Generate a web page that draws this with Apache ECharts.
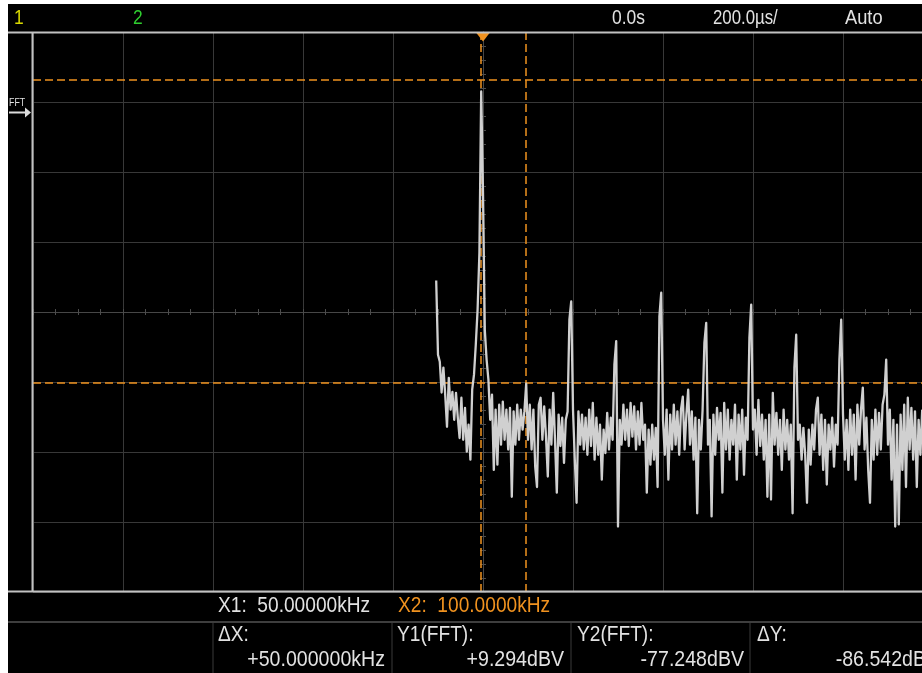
<!DOCTYPE html>
<html>
<head>
<meta charset="utf-8">
<script src="https://cdn.jsdelivr.net/npm/echarts@6/dist/echarts.min.js"></script>
<style>
  html, body { margin: 0; padding: 0; background: #fff; }
  #scope { width: 922px; height: 673px; }
</style>
</head>
<body>
<div id="scope"></div>
<script>
// FFT trace, one level per 2 kHz bin starting at 0 Hz (dBV)
const binKHz = 2;
const levels = [
  -48.0, -69.2, -71.2, -80.0, -72.9, -80.6, -89.8, -75.8, -84.9, -79.8,
  -87.8, -80.1, -87.2, -93.0, -81.5, -93.5, -84.4, -96.9, -89.2, -99.2,
  -79.2, -74.9, -66.3, -56.3, -40.1, 6.0, -22.9, -62.1, -70.6, -76.3,
  -87.8, -80.6, -102.1, -84.9, -100.6, -83.5, -94.9, -82.6, -93.5, -84.9,
  -96.3, -84.4, -109.8, -85.4, -94.9, -83.5, -93.5, -84.9, -90.6, -85.4,
  -77.5, -93.5, -83.5, -96.3, -84.9, -101.2, -107.0, -83.5, -81.5, -93.5,
  -84.0, -92.6, -104.0, -84.9, -94.9, -80.1, -93.5, -108.6, -86.3, -95.3,
  -87.2, -100.1, -87.8, -85.4, -59.2, -54.0, -84.9, -99.2, -111.5, -85.4,
  -94.9, -86.3, -96.3, -87.2, -97.8, -84.9, -95.3, -83.0, -99.2, -87.2,
  -97.8, -89.2, -104.9, -90.6, -97.3, -85.8, -96.3, -87.2, -93.5, -72.0,
  -65.3, -118.3, -87.8, -94.9, -83.5, -93.5, -84.9, -95.3, -83.0, -92.6,
  -84.0, -96.3, -85.4, -94.9, -83.0, -93.5, -89.2, -108.6, -90.6, -100.6,
  -89.2, -99.2, -90.1, -107.0, -58.3, -51.5, -87.8, -97.8, -84.9, -104.9,
  -86.3, -96.3, -83.5, -94.9, -85.4, -97.8, -84.9, -81.2, -96.3, -86.3,
  -79.2, -94.9, -85.4, -99.2, -87.2, -114.5, -87.8, -96.3, -84.9, -65.8,
  -60.1, -94.9, -87.8, -115.4, -86.3, -97.8, -84.4, -93.5, -85.8, -108.6,
  -83.0, -96.3, -84.9, -99.2, -87.8, -94.9, -83.5, -104.9, -86.3, -96.3,
  -84.9, -103.5, -87.2, -93.5, -64.4, -54.9, -90.6, -84.9, -97.8, -82.1,
  -95.3, -86.3, -99.2, -87.8, -109.8, -86.3, -110.6, -80.1, -94.9, -85.8,
  -97.8, -87.8, -102.1, -84.9, -96.3, -87.8, -99.2, -89.2, -114.5, -72.9,
  -63.5, -93.5, -89.2, -99.2, -90.1, -97.8, -111.5, -90.6, -100.6, -89.2,
  -96.3, -84.9, -81.5, -97.8, -86.3, -102.1, -87.8, -106.3, -89.2, -96.3,
  -87.2, -101.2, -89.2, -94.9, -70.6, -59.2, -86.3, -99.2, -87.8, -102.1,
  -84.9, -97.8, -86.3, -104.9, -83.5, -94.9, -84.9, -78.6, -96.3, -87.2,
  -102.1, -111.5, -87.8, -99.2, -84.9, -97.8, -85.8, -96.3, -83.5, -80.6,
  -70.6, -94.9, -84.9, -104.9, -87.8, -118.3, -89.2, -117.7, -86.3, -102.1,
  -83.5, -107.0, -81.5, -96.3, -84.4, -99.2, -85.4, -107.0, -87.8, -97.8,
  -84.9
];

// screen scale: 100 kHz/div, 20 dB/div
const xMin = -448, xMax = 552, xDiv = 100;
const yMin = -137, yMax = 23, yDiv = 20;
const centreKHz = 52;
const cursorX = [50, 100];          // X1, X2 (kHz)
const cursorY = [9.294, -77.248];   // Y1, Y2 (dBV)
const fftRefDBV = 0;

const topTexts = ['1', '2', '0.0s', '200.0\u00b5s/', 'Auto'];
const readRow1 = ['X1:  50.00000kHz', 'X2:  100.0000kHz'];
const readHeads = ['\u0394X:', 'Y1(FFT):', 'Y2(FFT):', '\u0394Y:'];
const readVals = ['+50.000000kHz', '+9.294dBV', '-77.248dBV', '-86.542dB'];

const orange = '#f0921f';
const gridCol = '#383838';
const font = '"Liberation Sans", Arial, sans-serif';

const trace = levels.map((v, i) => [i * binKHz, v]);

const chart = echarts.init(document.getElementById('scope'));

// centre-line axes carry the small graticule ticks
const centreX = (pos, split) => ({
  type: 'value', min: xMin, max: xMax, interval: xDiv, position: pos,
  axisLine: { show: true, onZero: true, onZeroAxisIndex: 2, lineStyle: { color: '#474747', width: 1 } },
  axisTick: { show: true, length: 3, lineStyle: { color: '#4c4c4c' } },
  minorTick: { show: true, splitNumber: 4, length: 3, lineStyle: { color: '#4c4c4c' } },
  axisLabel: { show: false },
  splitLine: { show: split, lineStyle: { color: gridCol, width: 1 } }
});
const centreY = (pos, split) => ({
  type: 'value', min: yMin, max: yMax, interval: yDiv, position: pos,
  axisLine: { show: true, onZero: true, onZeroAxisIndex: 2, lineStyle: { color: '#474747', width: 1 } },
  axisTick: { show: true, length: 3, lineStyle: { color: '#4c4c4c' } },
  minorTick: { show: true, splitNumber: 5, length: 3, lineStyle: { color: '#4c4c4c' } },
  axisLabel: { show: false },
  splitLine: { show: split, lineStyle: { color: gridCol, width: 1 } }
});

option = {
  backgroundColor: '#000',
  animation: false,
  grid: { left: 33, top: 32, width: 900, height: 560, show: false, outerBoundsMode: 'none', containLabel: false },
  xAxis: [
    centreX('bottom', true),
    centreX('top', false),
    { type: 'value', min: -5, max: 5, show: false, axisLine: { onZero: false } }
  ],
  yAxis: [
    centreY('left', true),
    centreY('right', false),
    { type: 'value', min: -4, max: 4, show: false, axisLine: { onZero: false } }
  ],
  series: [
    {
      type: 'line',
      xAxisIndex: 0,
      yAxisIndex: 0,
      data: trace,
      symbol: 'none',
      z: 5,
      lineStyle: { color: '#d0d0d0', width: 2.3, join: 'round' },
      markLine: {
        silent: true,
        symbol: ['none', 'none'],
        label: { show: false },
        lineStyle: { color: orange, width: 1.5, type: [8, 4] },
        data: [
          { xAxis: cursorX[0] }, { xAxis: cursorX[1] },
          { yAxis: cursorY[0] }, { yAxis: cursorY[1] }
        ]
      },
      markPoint: {
        silent: true,
        symbol: 'path://M0,0L14,0L7,9Z',
        symbolSize: [14, 9],
        symbolOffset: [0, 5],
        itemStyle: { color: orange },
        label: { show: false },
        data: [{ coord: [centreKHz, yMax] }]
      }
    }
  ]
};

chart.setOption(option);

// frame, readouts and markers around the graticule
const txt = (text, x, y, o) => ({
  type: 'text', x: x, y: y, scaleX: o.sx || 0.87, z: 100, silent: true,
  style: {
    text: text, fill: o.color || '#e2e2e2', font: (o.size || 22) + 'px ' + font,
    textAlign: o.align || 'left', textVerticalAlign: 'middle', verticalAlign: 'middle'
  }
});
const ln = (x1, y1, x2, y2, color, w) => ({
  type: 'line', z: 90, silent: true,
  shape: { x1: x1, y1: y1, x2: x2, y2: y2 },
  style: { stroke: color, lineWidth: w }
});

const refY = chart.convertToPixel({ yAxisIndex: 0 }, fftRefDBV);

const g = [
  // graticule frame
  ln(8, 32.5, 922, 32.5, '#c2c2c2', 2),
  ln(8, 591.5, 922, 591.5, '#c2c2c2', 2),
  ln(32.5, 32, 32.5, 592, '#c2c2c2', 2),
  // readout separators
  ln(8, 622, 922, 622, '#3e3e3e', 2),
  ln(213, 623, 213, 673, '#3a3a3a', 1),
  ln(392, 623, 392, 673, '#3a3a3a', 1),
  ln(571, 623, 571, 673, '#3a3a3a', 1),
  ln(750, 623, 750, 673, '#3a3a3a', 1),
  // top bar
  txt(topTexts[0], 14, 18, { color: '#d8d800', size: 21, sx: 0.83 }),
  txt(topTexts[1], 133, 18, { color: '#2fce2f', size: 21, sx: 0.83 }),
  txt(topTexts[2], 612, 18, { size: 21, sx: 0.83 }),
  txt(topTexts[3], 713, 18, { size: 21, sx: 0.8 }),
  txt(topTexts[4], 845, 18, { size: 21, sx: 0.87 }),
  // cursor readouts
  txt(readRow1[0], 218, 606, {}),
  txt(readRow1[1], 398, 606, { color: orange }),
  txt(readHeads[0], 218, 635, {}),
  txt(readHeads[1], 397, 635, {}),
  txt(readHeads[2], 577, 635, {}),
  txt(readHeads[3], 757, 635, {}),
  txt(readVals[0], 385, 660, { align: 'right', sx: 0.89 }),
  txt(readVals[1], 564, 660, { align: 'right', sx: 0.89 }),
  txt(readVals[2], 744, 660, { align: 'right', sx: 0.89 }),
  txt(readVals[3], 926, 660, { align: 'right', sx: 0.89 }),
  // FFT reference marker
  txt('FFT', 9, refY - 10, { size: 11, sx: 0.8 }),
  ln(9, refY, 26, refY, '#dcdcdc', 2),
  { type: 'polygon', z: 100, silent: true,
    shape: { points: [[25, refY - 5], [31, refY], [25, refY + 5]] },
    style: { fill: '#dcdcdc' } },
  // page margin
  { type: 'rect', z: 200, silent: true, shape: { x: 0, y: 0, width: 8, height: 673 }, style: { fill: '#fff' } },
  { type: 'rect', z: 200, silent: true, shape: { x: 0, y: 0, width: 922, height: 4 }, style: { fill: '#fff' } }
];

chart.setOption({ graphic: g });
</script>
</body>
</html>
